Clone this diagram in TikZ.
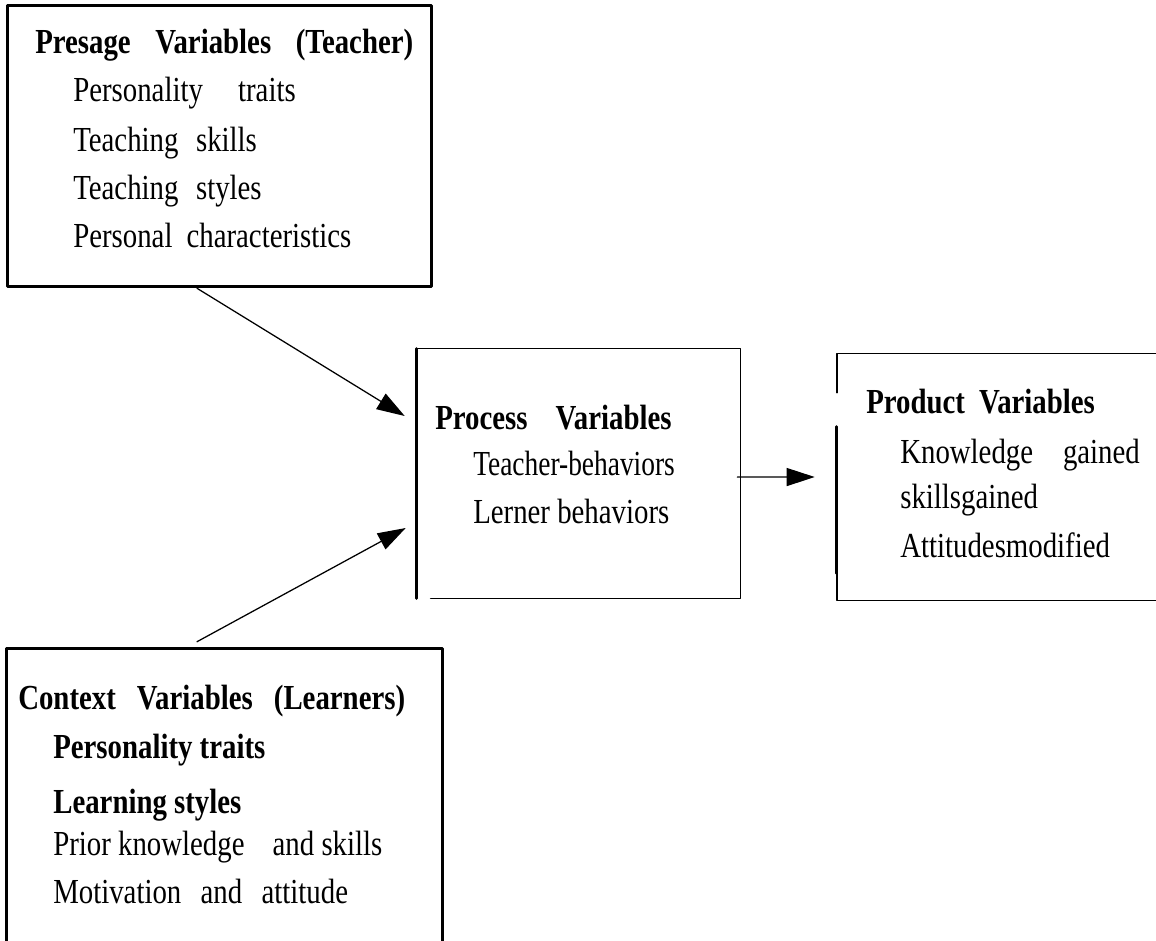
\documentclass[tikz,border=0pt]{standalone}
\usepackage{fontspec}
\setmainfont{Liberation Serif}[FakeStretch=0.82]
\usetikzlibrary{arrows.meta}
\newcommand{\gap}{\hspace{0.7em}}
\tikzset{
  box/.style={draw=none,inner sep=0pt,rectangle},
  line/.style={anchor=base west,inner sep=0pt},
  arr/.style={line width=0.9pt,-{Triangle[length=0.7cm,width=0.45cm]}}
}
\begin{document}
\begin{tikzpicture}[x=1cm,y=1cm,line cap=round,line join=round,font=\fontsize{25}{30}\selectfont]
  \useasboundingbox (0,0) rectangle (28.9,-23.5);
  % boxes
  \node[box,minimum width=10.575cm,minimum height=7cm] (presage) at (5.4875,-3.65) {};
  \node[box,minimum width=8.075cm,minimum height=6.225cm] (process) at (14.4625,-11.8375) {};
  \node[box,minimum width=8.325cm,minimum height=6.15cm] (product) at (25.0875,-11.925) {};
  \node[box,minimum width=10.875cm,minimum height=8.275cm] (context) at (5.6125,-20.3625) {};
  \draw[line width=2.1pt] (presage.north west) rectangle (presage.south east);
  \draw[line width=2.1pt] (context.north west) rectangle (context.south east);
  \draw[line width=1.1pt] ([xshift=0.35cm]process.south west) -- (process.south east)
    -- (process.north east) -- (process.north west);
  \draw[line width=2.1pt] (process.north west) -- (process.south west);
  \draw[line width=1.1pt] (product.north east) -- (product.north west) -- ++(0,-0.975);
  \draw[line width=1.1pt] ([yshift=0.675cm]product.south west) -- (product.south west)
    -- (product.south east);
  \draw[line width=2.1pt] ([yshift=-1.825cm]product.north west) -- ([yshift=0.675cm]product.south west);
  % presage text
  \node[line] (pre0) at (0.875,-1.35) {\bfseries Presage\gap Variables\gap (Teacher)};
  \node[line] (pre1) at (1.825,-2.55) {Personality\hspace{1em}traits};
  \node[line] (pre2) at (1.825,-3.775) {Teaching\hspace{0.5em}skills};
  \node[line] (pre3) at (1.825,-4.975) {Teaching\hspace{0.5em}styles};
  \node[line] (pre4) at (1.825,-6.175) {Personal\hspace{0.4em}characteristics};
  % process text
  \node[line] (pro0) at (10.875,-10.725) {\bfseries Process\hspace{0.8em}Variables};
  \node[line] (pro1) at (11.825,-11.875) {\addfontfeature{FakeStretch=0.78}Teacher-behaviors};
  \node[line] (pro2) at (11.825,-13.075) {Lerner behaviors};
  % product text
  \node[line] (prd0) at (21.65,-10.325) {\bfseries Product\hspace{0.4em}Variables};
  \node[line] (prd1) at (22.5,-11.575) {Knowledge\hspace{0.85em}gained};
  \node[line] (prd2) at (22.5,-12.7) {skillsgained};
  \node[line] (prd3) at (22.5,-13.925) {Attitudesmodified};
  % context text
  \node[line] (con0) at (0.45,-17.725) {\bfseries Context\hspace{0.6em}Variables\hspace{0.6em}(Learners)};
  \node[line] (con1) at (1.325,-18.95) {\bfseries Personality traits};
  \node[line] (con2) at (1.325,-20.325) {\bfseries Learning styles};
  \node[line] (con3) at (1.325,-21.375) {Prior knowledge\hspace{0.8em}and skills};
  \node[line] (con4) at (1.325,-22.575) {Motivation\hspace{0.55em}and\hspace{0.55em}attitude};
  % arrows
  \draw[arr] ([xshift=-0.5625cm,yshift=-0.05cm]presage.south) -- ([xshift=-0.3cm,yshift=1.4375cm]process.west);
  \draw[arr] ([xshift=-0.6875cm,yshift=0.175cm]context.north) -- ([xshift=-0.275cm,yshift=-1.3625cm]process.west);
  \draw[arr] ([xshift=-0.075cm,yshift=-0.09cm]process.east) -- ([xshift=-0.55cm]product.west);
\end{tikzpicture}
\end{document}
